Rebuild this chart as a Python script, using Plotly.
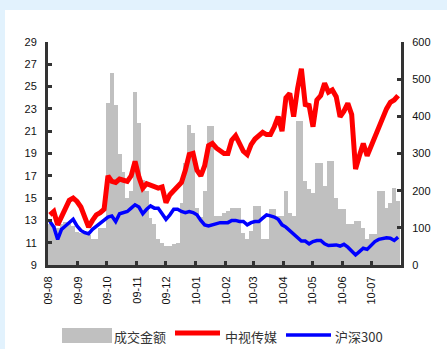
import plotly.graph_objects as go
import pandas as pd

start_date = "2009-08-03"
step_days = 4

zhongshi = [13.5, 13.8, 12.6, 13.4, 14.1, 14.8, 15.0, 14.7, 14.2, 13.2,
            12.4, 13.0, 13.5, 13.7, 14.0, 17.0, 16.5, 16.4, 16.7, 16.6,
            16.5, 17.0, 18.3, 16.9, 15.9, 16.3, 16.2, 16.0, 15.9, 16.0,
            14.6, 15.3, 15.7, 16.0, 16.4, 17.5, 18.9, 19.0, 17.5, 17.0,
            17.9, 19.7, 19.9, 19.5, 19.2, 19.0, 19.0, 20.2, 20.6, 19.8,
            19.2, 18.9, 19.8, 20.3, 20.6, 20.9, 20.7, 20.7, 21.4, 22.3,
            21.0, 24.0, 24.4, 22.3, 24.8, 26.6, 23.4, 23.3, 21.4, 23.8,
            24.2, 25.3, 24.5, 24.7, 24.1, 22.3, 22.8, 23.5, 22.5, 17.6,
            18.8, 19.9, 18.8, 19.7, 20.6, 21.5, 22.4, 23.0, 23.6, 23.8,
            24.2]

hs300 = [12.9, 12.4, 11.3, 12.2, 12.5, 12.8, 13.1, 12.5, 12.1, 11.9,
         11.8, 12.2, 12.5, 12.7, 13.0, 13.3, 13.4, 12.9, 13.6, 13.7,
         13.8, 14.1, 14.4, 14.2, 13.6, 14.0, 14.3, 14.1, 14.1, 13.6,
         13.1, 13.5, 14.0, 14.0, 13.8, 13.7, 13.8, 13.7, 13.5, 13.0,
         12.6, 12.5, 12.6, 12.7, 12.8, 12.8, 12.8, 13.0, 13.0, 12.9,
         12.9, 12.6, 12.8, 12.9, 12.9, 13.2, 13.5, 13.4, 13.3, 13.1,
         12.6, 12.4, 12.1, 11.8, 11.5, 11.15, 11.15, 10.9, 11.1, 11.2,
         11.2, 10.9, 10.75, 10.8, 10.8, 10.7, 10.85, 10.6, 10.2, 9.9,
         10.2, 10.5, 10.4, 10.8, 11.1, 11.3, 11.4, 11.45, 11.4, 11.2,
         11.5]

turnover = [110, 105, 100, 110, 115, 110, 105, 90, 85, 85,
            80, 70, 70, 100, 100, 437, 516, 430, 300, 250,
            180, 200, 465, 383, 230, 200, 127, 110, 69, 60,
            51, 52, 56, 60, 168, 275, 378, 356, 154, 130,
            200, 374, 374, 132, 132, 140, 145, 154, 154, 154,
            87, 69, 91, 159, 159, 69, 69, 150, 150, 132,
            132, 199, 140, 132, 387, 387, 226, 204, 195, 275,
            275, 213, 280, 280, 181, 150, 150, 109, 109, 118,
            118, 100, 69, 83, 83, 199, 199, 154, 168, 208,
            172]

tick_dates = ["2009-08-01", "2009-09-01", "2009-10-01", "2009-11-01", "2009-12-01",
              "2010-01-01", "2010-02-01", "2010-03-01", "2010-04-01", "2010-05-01",
              "2010-06-01", "2010-07-01"]
tick_labels = ["09-08", "09-09", "09-10", "09-11", "09-12", "10-01", "10-02",
               "10-03", "10-04", "10-05", "10-06", "10-07"]

names = ["成交金额", "中视传媒", "沪深300"]

dates = pd.date_range(start_date, periods=len(zhongshi), freq=f"{step_days}D")

# ---- figure ----
W, H = 447, 349
L, R, T, B = 48, 46, 42, 84
pw, ph = W - L - R, H - T - B


def px_x(x):
    return (x - L) / pw


def px_y(y):
    return (H - B - y) / ph


fig = go.Figure()
# bars on the base (right-hand) axis so the lines on the overlay axis sit on top
fig.add_trace(go.Bar(x=dates, y=turnover, name=names[0], yaxis="y",
                     marker=dict(color="#C0C0C0", line=dict(width=0)),
                     width=step_days * 86400000, showlegend=False))
fig.add_trace(go.Scatter(x=dates, y=zhongshi, name=names[1], mode="lines", yaxis="y2",
                         line=dict(color="#FF0000", width=5), showlegend=False))
fig.add_trace(go.Scatter(x=dates, y=hs300, name=names[2], mode="lines", yaxis="y2",
                         line=dict(color="#0000FF", width=3.5), showlegend=False))

axis_font = dict(family="Liberation Sans, Arial, sans-serif", size=11, color="#111111")
axcol = "#333333"

fig.update_layout(
    width=W, height=H,
    margin=dict(l=L, r=R, t=T, b=B),
    paper_bgcolor="#E2F2FD",
    plot_bgcolor="white",
    bargap=0,
    xaxis=dict(type="date", range=["2009-08-01", "2010-08-01"],
               tickvals=tick_dates, ticktext=tick_labels, tickangle=-90,
               ticks="inside", ticklen=4, tickwidth=3, tickcolor=axcol,
               showline=True, linewidth=3, linecolor=axcol,
               showgrid=False, zeroline=False, tickfont=axis_font,
               ticklabelstandoff=4),
    yaxis=dict(range=[0, 600], tickvals=list(range(0, 601, 100)),
               side="right",
               ticks="inside", ticklen=4, tickwidth=3, tickcolor=axcol,
               showline=True, linewidth=3, linecolor=axcol,
               showgrid=False, zeroline=False, tickfont=axis_font,
               ticklabelstandoff=6),
    yaxis2=dict(range=[9, 29], tickvals=list(range(9, 30, 2)),
                overlaying="y", side="left", anchor="x",
                ticks="inside", ticklen=4, tickwidth=3, tickcolor=axcol,
                showline=True, linewidth=3, linecolor=axcol,
                showgrid=False, zeroline=False, tickfont=axis_font,
                ticklabelstandoff=6),
)

shapes = [
    # white panel
    dict(type="rect", xref="paper", yref="paper", layer="below",
         x0=px_x(5), x1=px_x(W + 5), y0=px_y(H + 5), y1=px_y(10),
         fillcolor="white", line=dict(width=0)),
    # legend symbols
    dict(type="rect", xref="paper", yref="paper",
         x0=px_x(62), x1=px_x(112), y0=px_y(343), y1=px_y(328),
         fillcolor="#C0C0C0", line=dict(width=0)),
    dict(type="line", xref="paper", yref="paper",
         x0=px_x(175), x1=px_x(220), y0=px_y(333), y1=px_y(333),
         line=dict(color="#FF0000", width=5)),
    dict(type="line", xref="paper", yref="paper",
         x0=px_x(286), x1=px_x(331), y0=px_y(335), y1=px_y(335),
         line=dict(color="#0000FF", width=3.5)),
]
legend_font = dict(family="Noto Sans CJK SC, sans-serif", size=13, color="#333333")
annotations = [
    dict(text=names[0], x=px_x(112), y=px_y(336), xref="paper", yref="paper",
         xanchor="left", yanchor="middle", showarrow=False, font=legend_font),
    dict(text=names[1], x=px_x(223), y=px_y(336), xref="paper", yref="paper",
         xanchor="left", yanchor="middle", showarrow=False, font=legend_font),
    dict(text=names[2], x=px_x(333), y=px_y(336), xref="paper", yref="paper",
         xanchor="left", yanchor="middle", showarrow=False, font=legend_font),
]
fig.update_layout(shapes=shapes, annotations=annotations)

fig.write_html("out.html")
